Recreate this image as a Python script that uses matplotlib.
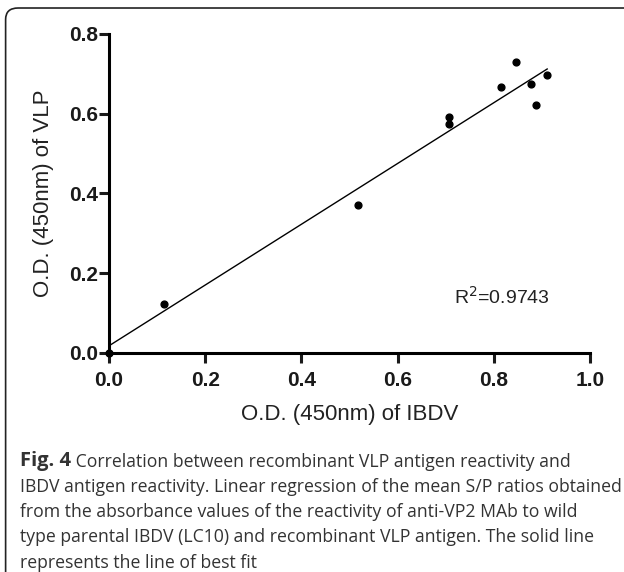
import matplotlib.pyplot as plt
import numpy as np
from matplotlib.patches import FancyBboxPatch

# Data
od_ibdv = [0.0, 0.115, 0.518, 0.707, 0.707, 0.815, 0.846, 0.877, 0.888, 0.911]
od_vlp = [0.0, 0.123, 0.371, 0.575, 0.593, 0.668, 0.729, 0.675, 0.621, 0.697]
fit_slope = 0.762
fit_intercept = 0.018
r2_label = "R$^2$=0.9743"

xticks = [0.0, 0.2, 0.4, 0.6, 0.8, 1.0]
yticks = [0.0, 0.2, 0.4, 0.6, 0.8]

caption_lines = [
    "Correlation between recombinant VLP antigen reactivity and",
    "IBDV antigen reactivity. Linear regression of the mean S/P ratios obtained",
    "from the absorbance values of the reactivity of anti-VP2 MAb to wild",
    "type parental IBDV (LC10) and recombinant VLP antigen. The solid line",
    "represents the line of best fit",
]

fig = plt.figure(figsize=(6.24, 5.72), dpi=100)

# rounded frame around figure + caption
frame = FancyBboxPatch((0.009, -0.05), 1.05, 1.036, boxstyle="round,pad=0,rounding_size=0.02",
                       transform=fig.transFigure, fill=False, edgecolor="#222222", linewidth=1.2)
fig.patches.append(frame)

ax = fig.add_axes([0.1747, 0.3829, 0.7708, 0.5577])
ax.scatter(od_ibdv, od_vlp, s=24, color="black", zorder=3, clip_on=False)
xfit = np.array([0.0, max(od_ibdv)])
ax.plot(xfit, fit_intercept + fit_slope * xfit, color="black", linewidth=1.0)

ax.set_xlim(0, 1.0)
ax.set_ylim(0, 0.8)
ax.set_xticks(xticks)
ax.set_yticks(yticks)
ax.set_xticklabels([f"{t:.1f}" for t in xticks], fontweight="bold", fontsize=15, family="Liberation Sans")
ax.set_yticklabels([f"{t:.1f}" for t in yticks], fontweight="bold", fontsize=15, family="Liberation Sans")
for s in ["top", "right"]:
    ax.spines[s].set_visible(False)
for s in ["left", "bottom"]:
    ax.spines[s].set_linewidth(2.2)
ax.tick_params(width=2.2, length=7, colors="#1a1a1a")
ax.tick_params(axis="x", pad=6)
ax.tick_params(axis="y", pad=1)

ax.set_xlabel("O.D. (450nm) of IBDV", fontsize=16, family="Liberation Sans", color="#222222", labelpad=10)
ax.set_ylabel("O.D. (450nm) of VLP", fontsize=16, family="Liberation Sans", color="#222222", labelpad=11)
ax.text(0.717, 0.175, r2_label, transform=ax.transAxes, fontsize=14, family="Liberation Sans",
        color="#222222", va="center")

# caption
x0 = 20 / 624
y0 = 1 - 461 / 572
dy = 25.5 / 572
for i, line in enumerate(caption_lines):
    if i == 0:
        t = fig.text(x0, y0, "Fig. 4", fontsize=14.5, fontweight="bold", family="Open Sans",
                     color="#333333", va="center")
        ax.annotate(" " + line, xy=(1, 0), xycoords=t, va="bottom", fontsize=12.7,
                    family="Open Sans", color="#333333", annotation_clip=False)
    else:
        fig.text(x0, y0 - i * dy, line, fontsize=12.7, family="Open Sans", color="#333333", va="center")

plt.savefig("out.png", dpi=100)
